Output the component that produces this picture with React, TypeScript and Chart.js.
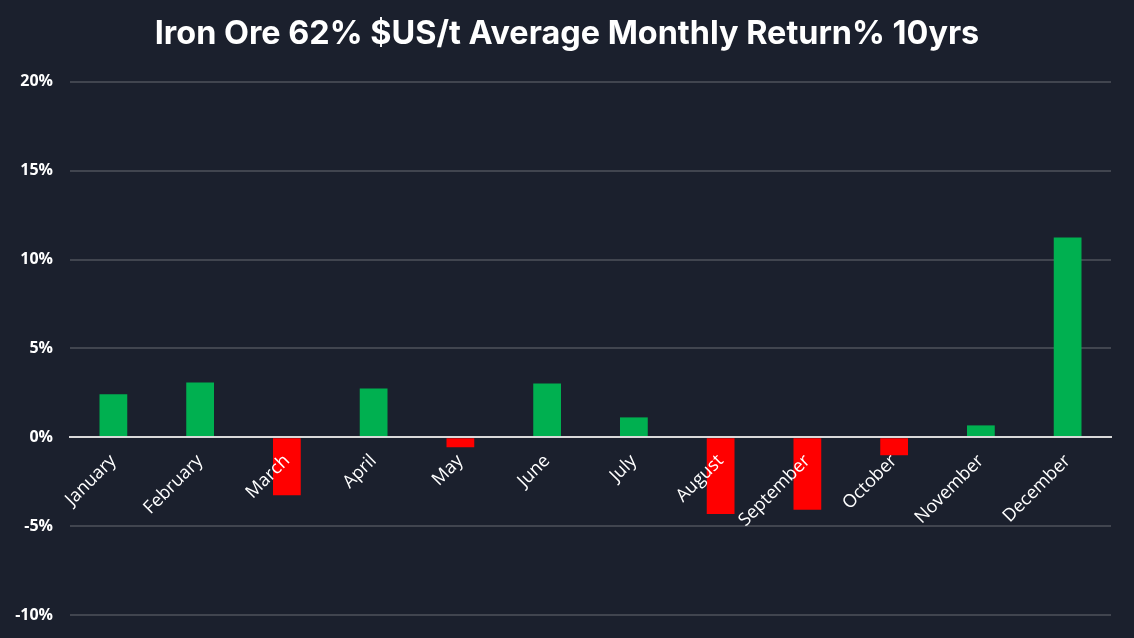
import React, { useEffect, useRef } from "react";
import { Chart, registerables } from "chart.js";

Chart.register(...registerables);

const months = ["January", "February", "March", "April", "May", "June", "July", "August", "September", "October", "November", "December"];
const returns = [2.42, 3.09, -3.26, 2.75, -0.56, 3.03, 1.12, -4.31, -4.08, -1.01, 0.67, 11.24];
const yTicks = [-10, -5, 0, 5, 10, 15, 20];
const titleText = "Iron Ore 62% $US/t Average Monthly Return% 10yrs";

const BG = "#1b202d";
const GREEN = "#00b050";
const RED = "#ff0000";

export default function App() {
  const ref = useRef<HTMLCanvasElement | null>(null);
  useEffect(() => {
    if (!ref.current) return;
    const chart = new Chart(ref.current, {
      type: "bar",
      data: {
        labels: months,
        datasets: [
          {
            data: returns,
            backgroundColor: returns.map((v) => (v >= 0 ? GREEN : RED)),
            barPercentage: 0.32,
            categoryPercentage: 1,
            yAxisID: "y",
          },
        ],
      },
      options: {
        animation: false,
        responsive: false,
        maintainAspectRatio: false,
        layout: { padding: { left: 0, right: 0, top: 15, bottom: 23 } },
        plugins: {
          legend: { display: false },
          tooltip: { enabled: false },
          title: {
            display: true,
            text: titleText,
            color: "#ffffff",
            font: { family: "Inter", weight: "bold", size: 32.4 },
            padding: { top: 0, bottom: 28 },
          },
        },
        scales: {
          x: {
            position: { y: 0 } as any,
            afterFit: (scale: any) => {
              scale.height = 0;
              scale.paddingTop = 0;
              scale.paddingBottom = 0;
              scale.paddingLeft = 0;
              scale.paddingRight = 0;
            },
            grid: { display: false, drawTicks: false },
            border: { display: true, color: "#d9d9d9", width: 2, z: 1 },
            ticks: {
              z: 1,
              color: "#ffffff",
              font: { family: "Open Sans", size: 18 },
              minRotation: 45,
              maxRotation: 45,
              padding: 13,
            },
          },
          y: {
            position: "left",
            min: -10,
            max: 20,
            afterBuildTicks: (scale: any) => {
              scale.ticks = yTicks.map((v) => ({ value: v }));
            },
            afterFit: (scale: any) => {
              scale.width = 70;
              scale.paddingTop = 0;
              scale.paddingBottom = 0;
            },
            grid: {
              color: (ctx: any) => (ctx.tick && ctx.tick.value === 0 ? "#d9d9d9" : "#41454f"),
              lineWidth: 2,
              drawTicks: false,
            },
            border: { display: false },
            ticks: {
              color: "#ffffff",
              font: { family: "Open Sans", weight: "bold", size: 16 },
              padding: 17,
              callback: (v: any) => `${v}%`,
            },
          },
          spacer: {
            type: "linear",
            position: "right",
            display: true,
            grid: { display: false, drawTicks: false },
            border: { display: false },
            ticks: { display: false },
            afterFit: (scale: any) => {
              scale.width = 23;
              scale.paddingTop = 0;
              scale.paddingBottom = 0;
            },
          },
        },
      },
    });
    return () => chart.destroy();
  }, []);
  return (
    <div style={{ position: "fixed", left: 0, top: 0, width: 1134, height: 638, background: BG }}>
      <canvas ref={ref} width={1134} height={638} style={{ display: "block" }} />
    </div>
  );
}
